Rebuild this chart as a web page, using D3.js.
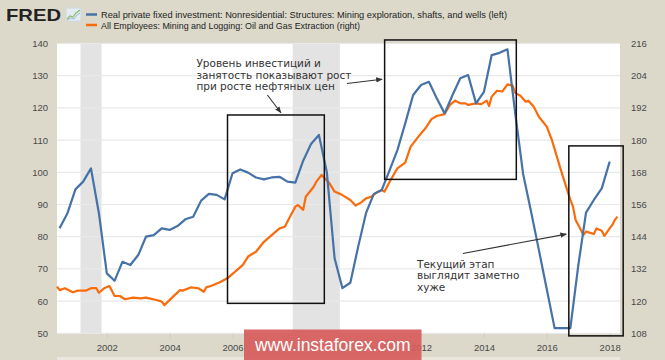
<!DOCTYPE html>
<html>
<head>
<meta charset="utf-8">
<script src="https://cdn.jsdelivr.net/npm/d3@7"></script>
<style>
  body { margin: 0; background: #dcd9ca; }
  svg { display: block; }
</style>
</head>
<body>
<svg id="chart"></svg>
<script>
// values

// quarterly, first quarter 2000Q3, last 2018Q1 (left axis)
const blueFirstQuarter = "2000-07"
const blueValues = [
  82.6, 87.3, 94.7, 97.1, 101.2, 87.3, 68.6, 66.3, 72.2, 71.2, 74.3, 80.0,
  80.5, 82.6, 82.1, 83.3, 85.4, 86.2, 91.2, 93.3, 93.0, 91.6, 99.7, 100.9,
  99.9, 98.4, 97.8, 98.4, 98.6, 97.1, 96.8, 103.6, 108.8, 111.6,
  100.0, 73.3, 64.0, 65.7, 77.0, 87.3, 93.3, 94.5, 100.7, 106.9, 115.2, 124.0,
  127.1, 128.1, 123.0, 118.3, 124.0, 129.2, 130.2, 121.4, 125.0, 136.4, 137.1, 138.2,
  118.0, 99.5, 88.0, 75.9, 63.7, 51.6, 51.6, 51.6, 71.0, 87.5, 91.4, 95.0, 103.3
]

// monthly readings (right axis)
const orangeMonths = [
  "2000-06","2000-07","2000-09","2000-12","2001-02","2001-05","2001-07","2001-09","2001-10","2001-12",
  "2002-02","2002-04","2002-06","2002-08","2002-11","2003-02","2003-04","2003-08","2003-10","2003-11",
  "2004-02","2004-05","2004-06","2004-09","2004-12","2005-02","2005-03","2005-05","2005-08","2005-11",
  "2006-02","2006-05","2006-07","2006-10","2007-01","2007-04","2007-07","2007-09","2007-11","2008-01",
  "2008-02","2008-04","2008-05","2008-08","2008-09","2008-11","2009-02","2009-04","2009-07","2009-10",
  "2009-12","2010-02","2010-04","2010-06","2010-08","2010-10","2010-11","2011-01","2011-04","2011-07",
  "2011-09","2011-12","2012-03","2012-05","2012-07","2012-10","2012-12","2013-02","2013-04","2013-06",
  "2013-07","2013-10","2013-12","2014-02","2014-03","2014-04","2014-06","2014-08","2014-10","2014-12",
  "2015-01","2015-03","2015-05","2015-06","2015-08","2015-10","2016-01","2016-03","2016-06","2016-08",
  "2016-10","2016-11","2016-12","2017-02","2017-03","2017-04","2017-05","2017-07","2017-08","2017-10",
  "2017-11","2018-01","2018-02","2018-03","2018-04"
]
const orangeValues = [
  125.4, 124.1, 124.8, 123.3, 123.9, 123.9, 124.8, 124.8, 123.1, 124.8,
  125.6, 121.9, 121.9, 120.7, 121.3, 121.0, 121.3, 120.4, 119.8, 118.5,
  121.4, 124.1, 123.9, 125.1, 124.8, 123.5, 125.1, 125.7, 126.9, 128.5,
  131.0, 133.5, 136.6, 138.4, 142.1, 144.6, 147.1, 147.7, 151.5, 155.2,
  155.8, 154.0, 158.9, 162.6, 164.5, 167.0, 163.9, 160.8, 159.5, 157.7,
  155.6, 156.7, 158.3, 158.9, 160.4, 161.4, 160.8, 164.5, 169.5, 171.6,
  177.5, 181.3, 184.8, 187.8, 189.0, 189.7, 193.1, 194.7, 193.7, 193.7,
  193.1, 193.7, 193.4, 194.7, 192.7, 196.2, 198.4, 198.1, 200.8, 200.2,
  197.5, 196.5, 194.3, 194.7, 192.5, 188.7, 185.0, 180.0, 170.1, 163.9,
  157.7, 155.2, 150.2, 146.5, 144.6, 145.9, 145.6, 145.0, 147.1, 146.2,
  144.3, 147.1, 148.4, 150.2, 151.5
]

const leftTicks = [50, 60, 70, 80, 90, 100, 110, 120, 130, 140]
const rightTicks = [108, 120, 132, 144, 156, 168, 180, 192, 204, 216]
const yearTicks = [2002, 2004, 2006, 2008, 2010, 2012, 2014, 2016, 2018]
const recessionStarts = ["2001-03", "2007-12"]
const recessionEnds = ["2001-11", "2009-06"]

const legendLabels = [
  "Real private fixed investment: Nonresidential: Structures: Mining exploration, shafts, and wells (left)",
  "All Employees: Mining and Logging: Oil and Gas Extraction (right)"
]
const note1 = ["Уровень инвестиций и", "занятость показывают рост", "при росте нефтяных цен"]
const note2 = ["Текущий этап", "выглядит заметно", "хуже"]

const W = 665, H = 360
const plot = {left: 57, right: 620, top: 43.5, bottom: 333.3}
const blue = "#4572a7", orange = "#fa6b0c"
const stamp = {x: 244, y: 329.5, w: 177.5, h: 32}

const parseMonth = d3.timeParse("%Y-%m")
// fractional year -> date, used for the hand drawn boxes and arrows
function yr(f) {
  const y = Math.floor(f)
  const start = new Date(y, 0, 1), end = new Date(y + 1, 0, 1)
  return new Date(+start + (f - y) * (end - start))
}

const svg = d3.select("#chart").attr("width", W).attr("height", H)

const x = d3.scaleTime()
  .domain([new Date(2000, 5, 1), new Date(2018, 4, 1)])
  .range([plot.left, plot.right])
const yL = d3.scaleLinear().domain([50, 140]).range([plot.bottom, plot.top])
const yR = d3.scaleLinear().domain([108, 216]).range([plot.bottom, plot.top])

svg.append("rect").attr("width", W).attr("height", H).attr("fill", "#dcd9ca")

// plot background
svg.append("rect")
  .attr("x", plot.left).attr("y", plot.top)
  .attr("width", plot.right - plot.left).attr("height", plot.bottom - plot.top)
  .attr("fill", "#fff")

// recession shading
svg.append("g").selectAll("rect")
  .data(recessionStarts.map((s, i) => [parseMonth(s), parseMonth(recessionEnds[i])]))
  .join("rect")
  .attr("x", d => x(d[0]))
  .attr("width", d => x(d[1]) - x(d[0]))
  .attr("y", plot.top).attr("height", plot.bottom - plot.top)
  .attr("fill", "#e3e3e3")

// grid
svg.append("g").selectAll("line")
  .data(leftTicks)
  .join("line")
  .attr("x1", plot.left).attr("x2", plot.right)
  .attr("y1", d => yL(d)).attr("y2", d => yL(d))
  .attr("stroke", "#e9e9e9").attr("stroke-width", 1.2)

// axes
const axisFont = "'Liberation Sans', Arial, sans-serif"
const xAxis = svg.append("g")
  .attr("transform", `translate(0,${plot.bottom})`)
  .call(d3.axisBottom(x)
    .tickValues(yearTicks.map(y => new Date(y, 0, 1)))
    .tickFormat(d3.timeFormat("%Y"))
    .tickSize(5).tickPadding(6))
xAxis.select(".domain").remove()
xAxis.selectAll("line").attr("stroke", "#d0cdbf")
// labels fully under the watermark are not visible in the original
xAxis.selectAll(".tick")
  .filter(d => x(d) > stamp.x && x(d) < stamp.x + stamp.w - 10)
  .select("text").remove()

const leftAxis = svg.append("g")
  .attr("transform", `translate(${plot.left},0)`)
  .call(d3.axisLeft(yL).tickValues(leftTicks).tickSize(0).tickPadding(9))
leftAxis.select(".domain").remove()

const rightAxis = svg.append("g")
  .attr("transform", `translate(${plot.right},0)`)
  .call(d3.axisRight(yR).tickValues(rightTicks).tickSize(0).tickPadding(11))
rightAxis.select(".domain").remove()

svg.selectAll(".tick text")
  .attr("font-family", axisFont).attr("font-size", "9.5px").attr("fill", "#4a4a4a")

// series
const blueData = blueValues.map((v, i) => ({date: d3.timeMonth.offset(parseMonth(blueFirstQuarter), 3 * i), value: v}))
const orangeData = orangeValues.map((v, i) => ({date: parseMonth(orangeMonths[i]), value: v}))

svg.append("path")
  .datum(orangeData)
  .attr("fill", "none").attr("stroke", orange).attr("stroke-width", 2.2)
  .attr("stroke-linejoin", "round")
  .attr("d", d3.line().x(d => x(d.date)).y(d => yR(d.value)))

svg.append("path")
  .datum(blueData)
  .attr("fill", "none").attr("stroke", blue).attr("stroke-width", 2.2)
  .attr("stroke-linejoin", "round")
  .attr("d", d3.line().x(d => x(d.date)).y(d => yL(d.value)))

// annotation boxes (years on x, left axis units on y)
const boxes = [
  {x0: 2005.84, x1: 2008.92, y0: 59.3, y1: 117.8},
  {x0: 2010.84, x1: 2015.03, y0: 97.8, y1: 141.1},
  {x0: 2016.70, x1: 2018.43, y0: 49.2, y1: 108.2}
]
svg.append("g").selectAll("rect")
  .data(boxes)
  .join("rect")
  .attr("x", d => x(yr(d.x0))).attr("width", d => x(yr(d.x1)) - x(yr(d.x0)))
  .attr("y", d => yL(d.y1)).attr("height", d => yL(d.y0) - yL(d.y1))
  .attr("fill", "none").attr("stroke", "#111").attr("stroke-width", 1.5)

svg.append("defs").append("marker")
  .attr("id", "head").attr("viewBox", "0 0 10 10")
  .attr("refX", 9).attr("refY", 5)
  .attr("markerWidth", 6).attr("markerHeight", 6)
  .attr("orient", "auto")
  .append("path").attr("d", "M0,1 L10,5 L0,9 Z").attr("fill", "#333")

const arrows = [
  {x0: 2009.64, y0: 127.6, x1: 2010.76, y1: 128.9},
  {x0: 2007.11, y0: 124.0, x1: 2007.54, y1: 118.5},
  {x0: 2013.33, y0: 74.8, x1: 2016.62, y1: 80.8}
]
svg.append("g").selectAll("line")
  .data(arrows)
  .join("line")
  .attr("x1", d => x(yr(d.x0))).attr("y1", d => yL(d.y0))
  .attr("x2", d => x(yr(d.x1))).attr("y2", d => yL(d.y1))
  .attr("stroke", "#333").attr("stroke-width", 1.1)
  .attr("marker-end", "url(#head)")

function note(lines, fx, fv) {
  svg.append("text")
    .attr("x", x(yr(fx))).attr("y", yL(fv))
    .attr("font-family", "'DejaVu Sans', Verdana, sans-serif")
    .attr("font-size", "10.5px").attr("fill", "#333")
    .selectAll("tspan").data(lines).join("tspan")
    .attr("x", x(yr(fx))).attr("dy", (d, i) => i ? 11.5 : 0)
    .text(d => d)
}
note(note1, 2004.85, 132.7)
note(note2, 2011.87, 70.3)

// header: FRED logo + legend
svg.append("text").attr("x", 6).attr("y", 21)
  .attr("font-family", "'Liberation Sans', Arial, sans-serif")
  .attr("font-weight", "bold").attr("font-size", "16.5px").attr("fill", "#222")
  .attr("textLength", 55).attr("lengthAdjust", "spacingAndGlyphs")
  .text("FRED")
const icon = svg.append("g").attr("transform", "translate(66,8)")
icon.append("rect").attr("width", 15).attr("height", 13).attr("fill", "#e4ebf1").attr("stroke", "#cfd8e0")
icon.append("polyline").attr("points", "1,11 4,8 7,9 10,5 14,2").attr("fill", "none").attr("stroke", "#8bbd6b").attr("stroke-width", 1.2)
icon.append("polyline").attr("points", "1,12 5,10 8,11 11,7 14,5").attr("fill", "none").attr("stroke", "#9fb6cf").attr("stroke-width", 1)

const legend = svg.append("g")
legend.selectAll("line")
  .data([blue, orange])
  .join("line")
  .attr("x1", 86).attr("x2", 97)
  .attr("y1", (d, i) => 14.5 + i * 10.5).attr("y2", (d, i) => 14.5 + i * 10.5)
  .attr("stroke", d => d).attr("stroke-width", 2.5)
legend.selectAll("text")
  .data(legendLabels)
  .join("text")
  .attr("x", 101).attr("y", (d, i) => 18.3 + i * 10.5)
  .attr("font-family", "'Liberation Sans', Arial, sans-serif")
  .attr("font-size", "9.8px").attr("fill", "#222")
  .attr("textLength", (d, i) => i ? 259 : 406).attr("lengthAdjust", "spacingAndGlyphs")
  .text(d => d)

// slider strip under the axis
svg.append("rect").attr("x", plot.left).attr("y", 357).attr("width", plot.right - plot.left).attr("height", 3).attr("fill", "#e9e7de")

// watermark (slightly see-through, the 2012 label shows through its edge)
svg.append("rect").attr("x", stamp.x).attr("y", stamp.y).attr("width", stamp.w).attr("height", stamp.h)
  .attr("fill", "#d75d5d").attr("opacity", 0.93)
svg.append("text").attr("x", stamp.x + stamp.w / 2).attr("y", 350.5).attr("text-anchor", "middle")
  .attr("font-family", "'Liberation Sans', Arial, sans-serif")
  .attr("font-size", "17.5px").attr("fill", "#fff")
  .text("www.instaforex.com")
</script>
</body>
</html>
